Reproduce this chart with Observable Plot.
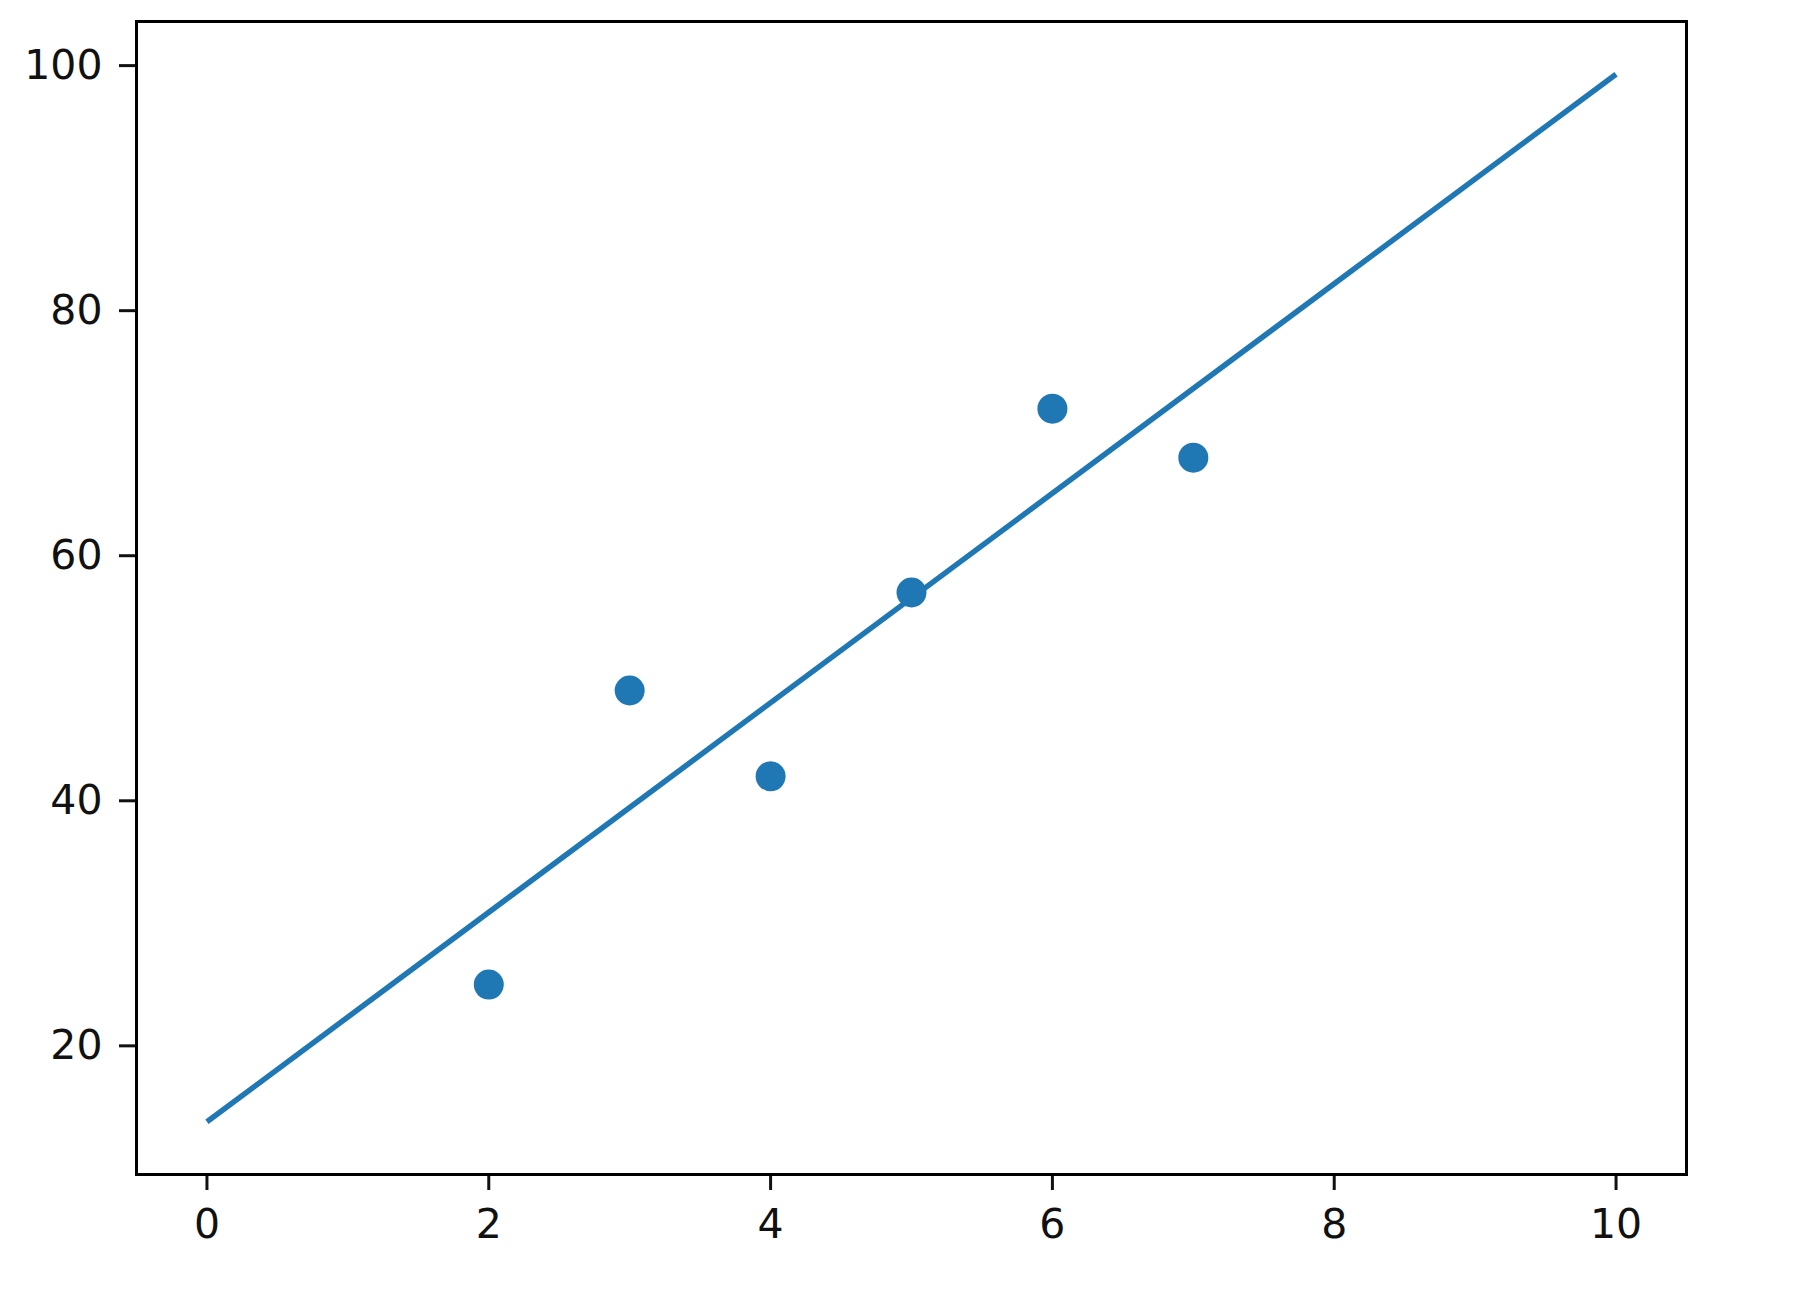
<!DOCTYPE html>
<html>
<head>
<meta charset="utf-8">
<script src="https://cdn.jsdelivr.net/npm/d3@7"></script>
<script src="https://cdn.jsdelivr.net/npm/@observablehq/plot@0.6"></script>
<style>
  html, body { margin: 0; padding: 0; background: #fff; }
  #chart svg { display: block; }
</style>
</head>
<body>
<div id="chart"></div>
<script>
// Scatter data
const pointX = [2, 3, 4, 5, 6, 7];
const pointY = [25, 49, 42, 57, 72, 68];
// Fitted line endpoints
const lineX = [0, 10];
const lineY = [13.8, 99.3];
// Tick values
const xTicks = [0, 2, 4, 6, 8, 10];
const yTicks = [20, 40, 60, 80, 100];

const points = pointX.map((x, i) => ({x, y: pointY[i]}));
const line = lineX.map((x, i) => ({x, y: lineY[i]}));

const color = "#1f77b4";

const chart = Plot.plot({
  width: 1810,
  height: 1290,
  marginLeft: 136,
  marginRight: 124,
  marginTop: 21,
  marginBottom: 116,
  style: {fontFamily: "DejaVu Sans", fontSize: "41px", color: "#111", background: "#fff"},
  x: {domain: [-0.5, 10.5]},
  y: {domain: [9.5, 103.6]},
  marks: [
    Plot.line(line, {x: "x", y: "y", stroke: color, strokeWidth: 5.5, strokeLinecap: "butt"}),
    Plot.dot(points, {x: "x", y: "y", r: 15, fill: color, stroke: "none"}),
    Plot.axisX({ticks: xTicks, tickSize: 16, tickPadding: 18, strokeWidth: 3, fontSize: 41, label: null, tickFormat: d => String(d)}),
    Plot.axisY({ticks: yTicks, tickSize: 17, tickPadding: 17, strokeWidth: 3, fontSize: 41, label: null, tickFormat: d => String(d)}),
    Plot.frame({stroke: "#000", strokeWidth: 3})
  ]
});
document.getElementById("chart").appendChild(chart);
</script>
</body>
</html>
